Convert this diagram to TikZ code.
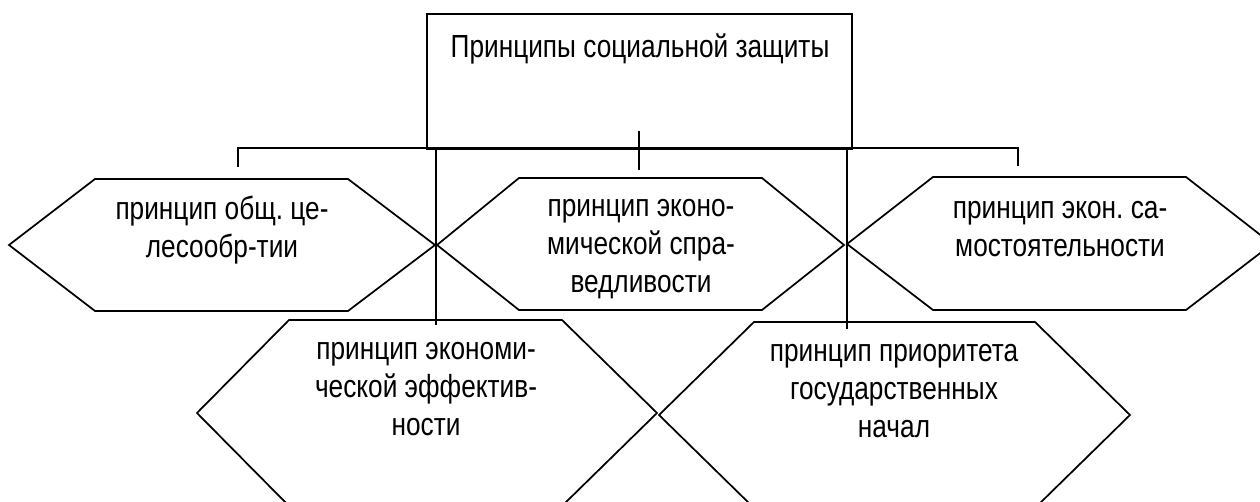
\documentclass[tikz,border=0pt]{standalone}
\usepackage{fontspec}
\setmainfont{Liberation Sans}[FakeStretch=0.82]
\frenchspacing
\tikzset{
  ln/.style={line width=1.3pt, black},
  hexa/.style={ln, line join=miter},
  lbl/.style={align=center, inner sep=0pt, anchor=base, font=\fontsize{24}{28.5}\selectfont},
}
\begin{document}
\begin{tikzpicture}[x=0.75pt,y=-0.75pt]
\useasboundingbox (0,0) rectangle (1260,502);
\fill[white] (0,0) rectangle (1260,502);
% title box
\draw[ln] (427,14) rectangle (852,149);
\node[lbl] (title) at (640,58) {Принципы социальной защиты};
% hexagons
\draw[hexa] (9,245) -- (95,179) -- (348,179) -- (435,245) -- (348,311) -- (95,311) -- cycle;
\draw[hexa] (437,245) -- (519,178) -- (762,178) -- (844,245) -- (762,310) -- (519,310) -- cycle;
\draw[hexa] (847,244) -- (933,177) -- (1186,177) -- (1272,244) -- (1186,310) -- (933,310) -- cycle;
\draw[hexa] (197,413) -- (289,320) -- (562,320) -- (657,413) -- (562,506) -- (289,506) -- cycle;
\draw[hexa] (659,415) -- (754,322) -- (1035,322) -- (1130,415) -- (1035,508) -- (754,508) -- cycle;
% texts (anchored at the baseline of the last line)
\node[lbl] (h1) at (222,258) {принцип общ. це-\\лесообр-тии};
\node[lbl] (h2) at (641,292) {принцип эконо-\\мической спра-\\ведливости};
\node[lbl] (h3) at (1060,257) {принцип экон. са-\\мостоятельности};
\node[lbl] (h4) at (426,435) {принцип экономи-\\ческой эффектив-\\ности};
\node[lbl] (h5) at (894,437) {принцип приоритета\\государственных\\начал};
% connector points
\coordinate (busL) at (238,148);
\coordinate (busR) at (1018,148);
\coordinate (tickL) at (238,167);
\coordinate (tickR) at (1018,166);
\coordinate (midT) at (639,131);
\coordinate (midB) at (639,170);
\coordinate (vLt) at (436,148);
\coordinate (vLb) at (436,325);
\coordinate (vRt) at (847,148);
\coordinate (vRb) at (847,329);
\draw[ln] (tickL) -- (busL) -- (busR) -- (tickR);
\draw[ln] (midT) -- (midB);
\draw[ln] (vLt) -- (vLb);
\draw[ln] (vRt) -- (vRb);
\end{tikzpicture}
\end{document}
